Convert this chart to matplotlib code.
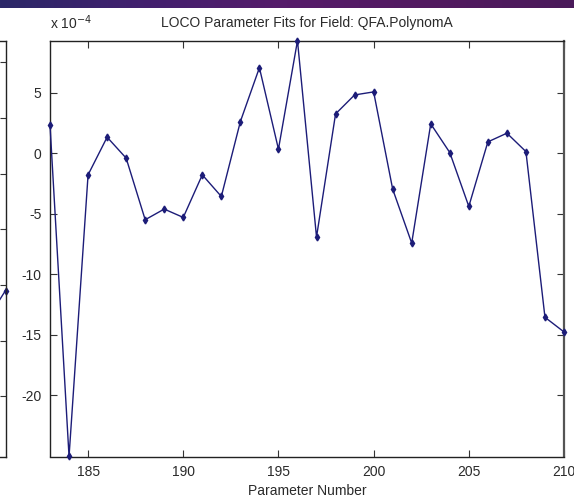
import numpy as np
import matplotlib
matplotlib.use("Agg")
import matplotlib.pyplot as plt
from matplotlib.colors import LinearSegmentedColormap

plt.rcParams['font.family'] = ['Liberation Sans', 'DejaVu Sans']
plt.rcParams['axes.unicode_minus'] = False

# LOCO fit results for QFA.PolynomA, in units of 1e-4
param_number = list(range(183, 211))
fit_e4 = [2.33, -25.06, -1.79, 1.32, -0.41, -5.50, -4.62, -5.31, -1.79, -3.58,
          2.61, 7.06, 0.33, 9.29, -6.93, 3.24, 4.81, 5.06, -2.97, -7.43,
          2.42, 0.05, -4.40, 0.93, 1.65, 0.13, -13.56, -14.77]
x_ticks = [185, 190, 195, 200, 205, 210]
y_ticks = [-20, -15, -10, -5, 0, 5]

# neighbouring panel (only its right edge shows)
left_x = [9, 10]
left_y = [0.43, 1.9]
left_ticks = [0, 1, 2, 3, 4, 5, 6]

line_col = '#1c1c78'
text_col = '#2a2a2a'

fig = plt.figure(figsize=(5.74, 5.0), dpi=100)
fig.patch.set_facecolor('white')

W, H = 574, 500
def frac_box(l, t, r, b):
    return [l / W, 1 - b / H, (r - l) / W, (b - t) / H]

# slide header band
band = fig.add_axes([0, 1 - 8 / H, 1, 8 / H])
cmap = LinearSegmentedColormap.from_list('band', ['#2b2868', '#42206e', '#561c6a', '#521a60', '#4a1a5a'])
band.imshow(np.linspace(0, 1, 256)[None, :], aspect='auto', cmap=cmap, extent=[0, 1, 0, 1])
band.axis('off')

# neighbouring panel, mostly off the figure
axl = fig.add_axes(frac_box(-509, 41, 5.5, 456.5))
axl.plot(left_x, left_y, '-', color=line_col, lw=1.0, marker='d', ms=3.5,
         mfc=line_col, mec=line_col, clip_on=False)
axl.set_xlim(0, 10)
axl.set_ylim(-1.08, 6.38)
axl.set_yticks(left_ticks)
axl.set_xticks([])
axl.tick_params(axis='y', direction='in', left=False, right=True, labelleft=False,
                length=4, width=0.8, color='#333333')
for s in axl.spines.values():
    s.set_linewidth(1.0)
    s.set_color('#222222')

# main panel
ax = fig.add_axes(frac_box(50, 40.7, 564, 456.5))
ax.plot(param_number, fit_e4, '-', color=line_col, lw=1.0, marker='d', ms=3.5,
        mfc=line_col, mec=line_col, clip_on=False, zorder=3)
ax.set_xlim(min(param_number), max(param_number))
ax.set_ylim(min(fit_e4), max(fit_e4))
ax.set_xticks(x_ticks)
ax.set_yticks(y_ticks)
ax.tick_params(direction='in', top=True, right=True, length=5, width=0.8,
               color='#333333', labelsize=10, labelcolor=text_col, pad=6)
for s in ax.spines.values():
    s.set_linewidth(1.0)
    s.set_color('#222222')
ax.spines['right'].set_color('#555555')
ax.spines['right'].set_linewidth(1.6)

ax.set_title('LOCO Parameter Fits for Field: QFA.PolynomA', fontsize=10,
             color=text_col, pad=10)
ax.set_xlabel('Parameter Number', fontsize=10, color=text_col, labelpad=4)
fig.text(50 / W, 1 - 29 / H, r'x 10$^{-4}$', fontsize=10, color=text_col,
         ha='left', va='baseline')

fig.savefig('out.png', dpi=100, facecolor='white')
